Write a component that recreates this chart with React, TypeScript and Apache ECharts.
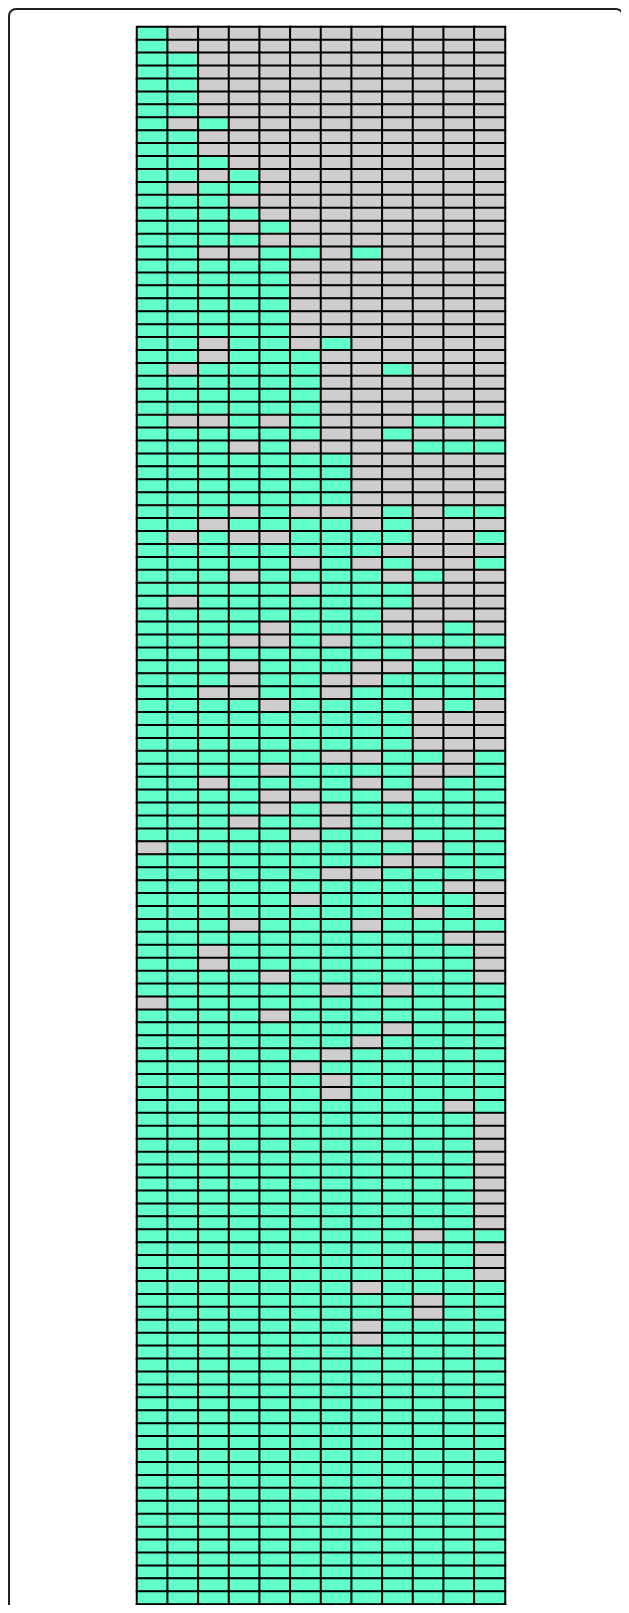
import React, { useEffect, useRef } from "react";
import * as echarts from "echarts";

// 12 columns, each row: '1' = green (done), '0' = gray (not done)
const columns = ["C1", "C2", "C3", "C4", "C5", "C6", "C7", "C8", "C9", "C10", "C11", "C12"];

const rowsBlockA = [
  "100000000000", "100000000000", "110000000000", "110000000000", "110000000000",
  "110000000000", "110000000000", "101000000000", "110000000000", "110000000000",
  "111000000000", "110100000000", "101100000000", "111000000000", "111100000000",
  "111010000000", "111100000000", "110011010000", "111110000000", "111110000000",
];
const rowsBlockB = [
  "111110000000", "111110000000", "111110000000", "111110000000", "110110100000",
  "110111000000", "101111001000", "111111000000", "111111000000", "111111000000",
  "100101000111", "111111001000", "111010000111", "111111100000", "111111100000",
  "111111100000", "111111100000", "111010001011", "110111101000", "101001111001",
];
const rowsBlockC = [
  "111111110000", "111110101001", "111011110100", "111110111000", "101111111000",
  "111111110000", "111101110010", "111001011111", "111111111000", "111011100111",
  "111011001111", "110011011111", "111101111010", "111111111000", "111111111000",
  "111111111000", "111111001101", "111101111001", "110111101011", "111100110111",
];
const rowsBlockD = [
  "111101011111", "111011011111", "111110110111", "011111111011", "111111110011",
  "111111001111", "111111111100", "111110111110", "111111111010", "111011101111",
  "111111111100", "110111111110", "110111111110", "111101111110", "111111010111",
  "011111111111", "111101111111", "111111110111", "111111101111", "111111011111",
];
const rowsBlockE = [
  "111110111111", "111111011111", "111111011111", "111111111101", "111111111110",
  "111111111110", "111111111110", "111111111110", "111111111110", "111111111110",
  "111111111110", "111111111110", "111111111110", "111111111011", "111111111110",
  "111111111110", "111111111110", "111111101111", "111111111011", "111111111011",
];
const rowsBlockF = [
  "111111101111", "111111101111", "111111111111", "111111111111", "111111111111",
  "111111111111", "111111111111", "111111111111", "111111111111", "111111111111",
  "111111111111", "111111111111", "111111111111", "111111111111", "111111111111",
  "111111111111", "111111111111", "111111111111", "111111111111", "111111111111",
  "111111111111", "111111111111", "111111111111",
];

const statusRows = [...rowsBlockA, ...rowsBlockB, ...rowsBlockC, ...rowsBlockD, ...rowsBlockE, ...rowsBlockF];
const rowLabels = statusRows.map((_, i) => "R" + (i + 1));

const GREEN = "#63ffca";
const GRAY = "#cfcdd0";

export default function App() {
  const ref = useRef<HTMLDivElement>(null);
  useEffect(() => {
    if (!ref.current) return;
    const chart = echarts.init(ref.current, null, { renderer: "svg" });
    const data: number[][] = [];
    statusRows.forEach((row, r) => {
      row.split("").forEach((ch, c) => {
        data.push([c, r, Number(ch)]);
      });
    });
    const rowH = 12.93;
    chart.setOption({
      animation: false,
      grid: {
        left: 127,
        top: 17,
        width: 368,
        height: rowH * statusRows.length,
        show: true,
        borderColor: "#888",
        borderWidth: 1,
      },
      xAxis: { type: "category", data: columns, show: false },
      yAxis: { type: "category", data: rowLabels, inverse: true, show: false },
      visualMap: {
        type: "piecewise",
        show: false,
        dimension: 2,
        pieces: [
          { value: 0, color: GRAY },
          { value: 1, color: GREEN },
        ],
      },
      series: [
        {
          type: "heatmap",
          data,
          itemStyle: { borderColor: "#000", borderWidth: 2 },
          emphasis: { disabled: true },
        },
      ],
    });
    return () => chart.dispose();
  }, []);
  return (
    <div style={{ height: 1605, marginBottom: -8, marginRight: -3, overflow: "hidden" }}>
      <div
        style={{
          border: "2px solid #222",
          borderRadius: 8,
          overflow: "hidden",
          height: 1700,
        }}
      >
        <div ref={ref} style={{ width: 609, height: 1690 }} />
      </div>
    </div>
  );
}
